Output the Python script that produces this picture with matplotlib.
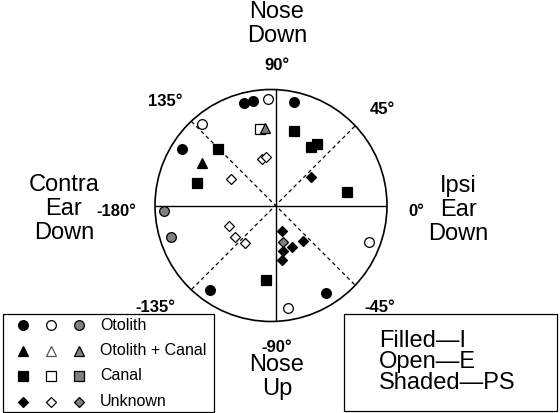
import numpy as np
import matplotlib
matplotlib.use("Agg")
import matplotlib.pyplot as plt
from matplotlib.patches import Circle, Rectangle

plt.rcParams['font.family'] = ['Liberation Sans', 'DejaVu Sans']

# preferred direction (deg) and radius (fraction of circle) per group
otolith_I_ang = [107, 102, 80, 149, -128, -60]
otolith_I_r = [0.92, 0.92, 0.91, 0.94, 0.92, 0.87]
otolith_E_ang = [94, 132, -21.5, -83]
otolith_E_r = [0.92, 0.95, 0.87, 0.89]
otolith_PS_ang = [183, 197]
otolith_PS_r = [0.96, 0.94]

otocanal_I_ang = [150]
otocanal_I_r = [0.73]
otocanal_PS_ang = [97.5]
otocanal_PS_r = [0.67]

canal_I_ang = [135.5, 164, 76, 59, 56, 11, -97.5]
canal_I_r = [0.69, 0.70, 0.66, 0.59, 0.64, 0.63, 0.65]
canal_E_ang = [101.5]
canal_E_r = [0.67]

unknown_I_ang = [38.5, -75, -52, -68, -81, -83]
unknown_I_r = [0.39, 0.23, 0.39, 0.39, 0.40, 0.47]
unknown_E_ang = [106.5, 101, 149.5, 203.5, 218, 231]
unknown_E_r = [0.42, 0.43, 0.45, 0.44, 0.44, 0.42]
unknown_PS_ang = [-79]
unknown_PS_r = [0.32]

legend_names = ['Otolith', 'Otolith + Canal', 'Canal', 'Unknown']
key_lines = ['Filled\u2014I', 'Open\u2014E', 'Shaded\u2014PS']

W, H = 560, 413
CX, CY, R = 275.5, 205.5, 116.0


def px(x, y):
	# pixel position (from top left) -> data coords
	return (x - CX) / R, (CY - y) / R


FILL = {'I': 'black', 'E': 'white', 'PS': '#808080'}
MARK = {'o': 7, '^': 7.5, 's': 7, 'D': 4.8}


def pts(ax, ang, r, marker, kind, z=3):
	a = np.deg2rad(np.array(ang, dtype=float))
	r = np.array(r, dtype=float)
	ax.plot(r * np.cos(a), r * np.sin(a), ls='none', marker=marker,
		ms=MARK[marker], mfc=FILL[kind], mec='black', mew=0.9, zorder=z)


fig = plt.figure(figsize=(W / 100, H / 100), dpi=100)
ax = fig.add_axes([0, 0, 1, 1])
ax.set_xlim(-CX / R, (W - CX) / R)
ax.set_ylim(-(H - CY) / R, CY / R)
ax.axis('off')

circ = Circle(((271.0 - CX) / R, 0), 1.0, fill=False, ec='black', lw=1.2, zorder=2)
ax.add_patch(circ)

for deg in [0, 90]:
	a = np.deg2rad(deg)
	ln, = ax.plot([-1.2 * np.cos(a), 1.2 * np.cos(a)], [-1.2 * np.sin(a), 1.2 * np.sin(a)],
		'k-', lw=1.0, zorder=1)
	ln.set_clip_path(circ)
for deg in [45, 135]:
	a = np.deg2rad(deg)
	ln, = ax.plot([-1.2 * np.cos(a), 1.2 * np.cos(a)], [-1.2 * np.sin(a), 1.2 * np.sin(a)],
		'k', ls=(0, (3, 2.5)), lw=0.9, zorder=1)
	ln.set_clip_path(circ)

pts(ax, otolith_I_ang, otolith_I_r, 'o', 'I')
pts(ax, otolith_E_ang, otolith_E_r, 'o', 'E')
pts(ax, otolith_PS_ang, otolith_PS_r, 'o', 'PS')
pts(ax, canal_I_ang, canal_I_r, 's', 'I')
pts(ax, canal_E_ang, canal_E_r, 's', 'E')
pts(ax, otocanal_I_ang, otocanal_I_r, '^', 'I', 4)
pts(ax, otocanal_PS_ang, otocanal_PS_r, '^', 'PS', 4)
pts(ax, unknown_I_ang, unknown_I_r, 'D', 'I')
pts(ax, unknown_E_ang, unknown_E_r, 'D', 'E')
pts(ax, unknown_PS_ang, unknown_PS_r, 'D', 'PS')

# direction names
big = dict(fontsize=17, ha='center', va='center', linespacing=1.1)
ax.text(*px(277, 24), 'Nose\nDown', **big)
ax.text(*px(277, 377), 'Nose\nUp', **big)
ax.text(*px(64, 209), 'Contra\nEar\nDown', **big)
ax.text(*px(458, 210), 'Ipsi\nEar\nDown', **big)

# angle labels
deg_kw = dict(fontsize=12, fontweight='bold', ha='center', va='center')
for lab, x, y in [('90', 277, 65), ('45', 382, 110), ('135', 165, 102),
		('0', 416, 211), ('-180', 116, 211), ('-135', 155, 308),
		('-45', 380, 308), ('-90', 277, 347)]:
	ax.text(*px(x, y), lab + '\u00b0', **deg_kw)

# marker key box
x0, y0 = px(3, 412)
x1, y1 = px(214, 314)
ax.add_patch(Rectangle((x0, y0), x1 - x0, y1 - y0, fill=False, ec='black', lw=0.9))
for i, (name, m) in enumerate(zip(legend_names, ['o', '^', 's', 'D'])):
	yy = 325 + i * 25.5
	for kind, xx in zip(['I', 'E', 'PS'], [23, 51, 79]):
		lx, ly = px(xx, yy)
		ax.plot([lx], [ly], ls='none', marker=m, ms=MARK[m], mfc=FILL[kind],
			mec='black' if kind != 'E' or m != '^' else '#555555', mew=0.9)
	ax.text(*px(100, yy), name, fontsize=11.5, ha='left', va='center')

# fill key box
x0, y0 = px(344, 411)
x1, y1 = px(557, 314)
ax.add_patch(Rectangle((x0, y0), x1 - x0, y1 - y0, fill=False, ec='black', lw=0.9))
ax.text(*px(379, 362), '\n'.join(key_lines), fontsize=17, ha='left', va='center',
	linespacing=0.95)

fig.savefig('out.png', dpi=100)
